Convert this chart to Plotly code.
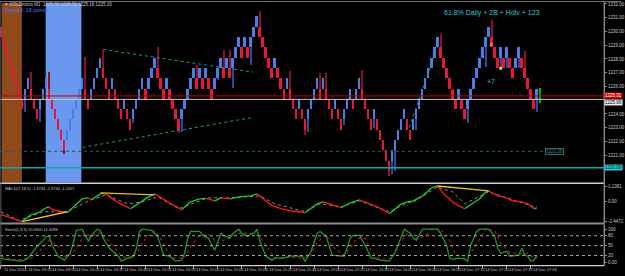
import plotly.graph_objects as go

W, H = 625, 276

# ---------------- data ----------------
BRICK_SIZE = 0.75
BRICK_BASE = 1225.10
# renko brick close levels (in bricks relative to BRICK_BASE), one per bar
brick_level = [6, 5, 4, 3, 2, 1, 0, -1, 1, 2,
               0, -1, -2, 0, 1, 2, 0, -1, -2, -3,
               -4, -5, -3, -2, -1, 0, 1, 2, 0, -1,
               1, 2, 3, 4, 2, 1, 0, 2, 0, -1,
               -2, 0, -2, -3, -1, 0, 1, 2, 0, 2,
               3, 4, 2, 1, 0, 2, 0, -1, -2, -3,
               -1, 0, 1, 2, 3, 1, 3, 1, 3, 1,
               0, 2, 3, 4, 2, 4, 2, 4, 5, 6,
               4, 6, 4, 6, 7, 8, 6, 5, 4, 3,
               2, 4, 2, 1, 0, 2, 0, -1, -2, 0,
               -2, -3, -1, 0, 1, 2, 0, 2, 0, -1,
               -2, 0, -2, -3, -1, 0, 1, -1, 1, 2,
               0, -1, -2, -3, -1, -3, -4, -5, -6, -7,
               -5, -4, -3, -2, -1, -3, -4, -2, -1, 0,
               1, 2, 3, 4, 5, 6, 4, 3, 2, 1,
               0, -1, 1, -1, -2, 0, 1, 2, 3, 4,
               5, 6, 7, 5, 4, 3, 5, 3, 5, 3,
               2, 4, 5, 3, 2, 1, 0, -1, 1]
wick_high_level = {10: 2.6, 16: 2.6, 28: 4.1, 34: 4.7, 52: 5.0, 65: 3.3, 74: 4.7, 76: 4.7,
                   86: 8.5, 96: 2.7, 106: 2.5, 108: 2.5, 120: 2.8, 146: 6.3, 163: 7.6, 174: 4.6}
wick_low_level = {8: -1.3, 13: -2.2, 21: -5.3, 44: -2.3, 59: -3.3, 60: -3.2, 72: 1.8, 77: 1.05,
                  83: 3.3, 101: -3.5, 102: -3.2, 114: -2.5, 124: -2.8, 129: -7.5, 130: -7.3,
                  131: -7.0, 138: -3.0, 155: -2.3, 161: 3.1, 166: 2.8, 168: 3.0, 172: 3.0, 178: -1.3}
current_bar = 179
current_low, current_high = 1224.81, 1225.88

# price labels hidden behind the coloured price tags are left out (1220, 1225)
price_ticks = [1219, 1221, 1222, 1223, 1224, 1226, 1227, 1228, 1229, 1230, 1231, 1232]
red_line_price = 1225.31
bid_line_price = 1225.06
cyan_line_price = 1220.09
dotted_level_price = 1221.28
dotted_level_end_bar = 180.5

trend_upper_bars, trend_upper_prices = [34.0, 83.8], [1228.69, 1227.04]
trend_lower_bars, trend_lower_prices = [27.1, 83.2], [1221.57, 1223.73]
trend_rise_bars, trend_rise_prices = [135.6, 145.2], [1223.01, 1229.05]

band_brown_bars = [0.33, 6.93]
band_blue_bars = [14.85, 26.7]

mark_c = (163, 1229.12)
mark_sq = (166, 1227.32)

macd_bar = [0, 3, 7, 10, 11, 13, 15, 16, 17, 22, 27, 29, 30, 33, 34, 35, 38, 41, 43, 47,
            49, 51, 56, 60, 63, 66, 68, 69, 71, 73, 76, 79, 83, 85, 90, 93, 96, 99, 101, 105,
            107, 111, 113, 116, 119, 125, 129, 133, 135, 137, 140, 143, 145, 147, 150, 152, 154, 159, 161, 162,
            165, 167, 170, 173, 175, 177, 178]
macd_val = [-0.94, -1.16, -1.44, -0.94, -0.90, -0.73, -0.44, -0.37, -0.58, -0.80, 0.21, 0.28, 0.14, 0.57, 0.60, 0.53, 0.06, -0.29, -0.51, 0.06,
            0.35, 0.57, -0.08, -0.58, -0.01, 0.21, 0.24, 0.18, 0.06, 0.28, 0.21, 0.35, 0.42, 0.57, -0.29, -0.51, -0.65, -0.73, -0.80, -0.15,
            -0.01, -0.29, -0.44, -0.08, 0.14, -0.37, -0.87, -0.15, -0.01, 0.06, 0.42, 1.00, 1.14, 0.57, -0.01, -0.29, -0.51, 0.21, 0.71, 0.78,
            0.42, 0.35, 0.06, -0.01, -0.15, -0.51, -0.44]
macd_sig_bar = [0, 6, 14, 22, 29, 35, 42, 47, 52, 59, 66, 69, 76, 86, 91, 101, 106, 113, 119, 129,
                135, 137, 145, 150, 154, 162, 170, 177, 178]
macd_sig_val = [-0.73, -1.37, -0.73, -0.73, 0.06, 0.50, -0.15, -0.01, 0.35, -0.51, 0.06, 0.28, 0.28, 0.42, -0.15, -0.73, -0.15, -0.37, 0.06, -0.73,
                -0.08, -0.01, 1.07, 0.71, -0.15, 0.71, 0.14, -0.37, -0.29]
macd_div_lines = [([7, 22], [-1.44, -0.73]), ([33, 51], [0.64, 0.50]), ([145, 162], [1.14, 0.78])]
macd_ticks = [1.1381, 0.0, -1.4471]
macd_ticktext = ["1.1381", "0.00", "-1.4471"]
macd_label = "MACD(7,18,5) -1.3734 -1.3734 -1.1107"

stoch_bar = [0, 1, 7, 9, 11, 12, 14, 15, 16, 17, 19, 21, 23, 24, 25, 27, 28, 29, 30, 32,
             33, 34, 36, 38, 39, 40, 42, 44, 45, 46, 47, 50, 52, 53, 54, 56, 58, 60, 61, 62,
             63, 66, 67, 69, 70, 71, 73, 74, 76, 77, 79, 80, 82, 83, 84, 85, 86, 88, 90, 91,
             94, 96, 100, 101, 103, 105, 106, 108, 109, 110, 113, 114, 116, 117, 119, 121, 123, 124, 126, 129,
             131, 133, 134, 136, 137, 138, 140, 145, 146, 148, 149, 150, 152, 154, 155, 156, 158, 159, 162, 164,
             165, 166, 168, 169, 172, 173, 174, 175, 176, 177, 178]
stoch_val = [12, 9, 3, 12, 36, 48, 66, 78, 78, 51, 18, 6, 27, 57, 96, 100, 81, 63, 81, 100,
             96, 72, 42, 27, 18, 3, 12, 18, 42, 93, 100, 96, 78, 51, 21, 18, 3, 6, 27, 72,
             93, 93, 81, 72, 51, 36, 87, 81, 72, 87, 100, 87, 78, 87, 87, 100, 63, 18, 6, 12,
             12, 18, 18, 3, 33, 87, 93, 78, 51, 21, 18, 18, 72, 81, 81, 51, 12, 12, 6, 3,
             33, 78, 100, 87, 72, 66, 100, 100, 87, 51, 12, 9, 12, 9, 3, 51, 93, 100, 100, 78,
             42, 27, 33, 18, 21, 42, 21, 18, 3, 6, 20]
stoch_sig_bar = [0, 5, 10, 13, 16, 19, 21, 23, 26, 28, 30, 33, 35, 38, 40, 43, 45, 48, 51, 53,
                 55, 57, 61, 63, 66, 69, 72, 74, 77, 80, 84, 86, 89, 91, 95, 100, 103, 105, 108, 110,
                 114, 116, 118, 121, 123, 126, 130, 132, 135, 138, 141, 143, 146, 149, 151, 154, 156, 159, 161, 164,
                 166, 169, 172, 175, 177, 178]
stoch_sig_val = [18, 6, 12, 36, 66, 48, 18, 18, 57, 87, 78, 90, 72, 42, 18, 12, 27, 72, 96, 72,
                 36, 12, 12, 48, 81, 84, 57, 66, 81, 90, 84, 78, 36, 12, 15, 12, 21, 60, 84, 48,
                 21, 42, 72, 72, 33, 9, 12, 48, 87, 72, 78, 100, 100, 66, 24, 12, 27, 72, 100, 96,
                 57, 30, 24, 27, 12, 11.4]
stoch_levels = [80, 50, 20]
stoch_ticks = [100, 80, 50, 20, 0]
stoch_ticktext = ["100", "80", "50", "20", "0.00"]
stoch_label = "Stoch(5,3,3) 20.0000 11.4286"

time_label_bars = [0, 8, 16, 24, 32, 40, 48, 56, 64, 72, 80, 88, 96, 104, 112, 120, 128, 136, 144, 152, 160, 168, 176]
time_labels = ["11 Dec 2014", "14 Dec 09:25", "14 Dec 09:53", "14 Dec 10:21", "14 Dec 10:37", "14 Dec 10:43",
               "14 Dec 10:51", "14 Dec 10:59", "14 Dec 11:02", "14 Dec 11:05", "14 Dec 11:08", "14 Dec 11:22",
               "14 Dec 11:44", "14 Dec 12:00", "14 Dec 12:22", "14 Dec 13:33", "14 Dec 14:05", "14 Dec 16:04",
               "14 Dec 16:59", "14 Dec 17:12", "14 Dec 17:20", "14 Dec 17:37", "14 Dec 17:53"]

header_text = "▾ GOLDmicro,M1  1225.30 1225.30 1225.16 1225.16"
spread_text = "Spread: 18 points"
setup_text = "61.8% Daily + 2B + Hdiv + 123"
count_text = "+7"

# ---------------- layout helpers ----------------
def fy(px):
    return 1 - px / H

PLOT_RIGHT = 608 / W
X_RANGE = [-0.33, -0.33 + 608 / 3.03]
MAIN_DOM = [fy(183.5), fy(2)]
MACD_DOM = [fy(224), fy(185)]
STOCH_DOM = [fy(267), fy(226)]
MAIN_RANGE = [1232 - (183.5 - 3) / 13.9, 1232 - (2 - 3) / 13.9]
MACD_RANGE = [(202.9 - 224) * 0.0718, (202.9 - 185) * 0.0718]
STOCH_RANGE = [-9, 114]

RED, BLUE = "#e8163c", "#4a7de8"
RED_W, BLUE_W = "#8c1026", "#2a4a9a"
FONT = "Arial"

# ---------------- build bricks ----------------
xs, bases, heights, cols = [], [], [], []
wx, wbase, wh, wcols = [], [], [], []
prev = brick_level[0] + 1
for i, lv in enumerate(brick_level):
    up = lv > prev
    op = lv - 1 if up else lv + 1
    lo_b, hi_b = min(op, lv), max(op, lv)
    lo_w = min(lo_b, wick_low_level.get(i, lo_b))
    hi_w = max(hi_b, wick_high_level.get(i, hi_b))
    p_lo, p_hi = BRICK_BASE + BRICK_SIZE * lo_b, BRICK_BASE + BRICK_SIZE * hi_b
    xs.append(i); bases.append(p_lo); heights.append(p_hi - p_lo)
    cols.append(BLUE if up else RED)
    wx.append(i)
    wlo, whi = BRICK_BASE + BRICK_SIZE * lo_w, BRICK_BASE + BRICK_SIZE * hi_w
    wbase.append(wlo); wh.append(whi - wlo)
    wcols.append(BLUE_W if up else RED_W)
    prev = lv

fig = go.Figure()
fig.add_trace(go.Bar(x=wx, y=wh, base=wbase, width=0.33, marker=dict(color=wcols, line=dict(width=0)),
                     xaxis="x", yaxis="y", hoverinfo="skip", showlegend=False))
fig.add_trace(go.Bar(x=xs, y=heights, base=bases, width=0.66, marker=dict(color=cols, line=dict(width=0)),
                     xaxis="x", yaxis="y", hoverinfo="skip", showlegend=False))
fig.add_trace(go.Bar(x=[current_bar], y=[current_high - current_low], base=[current_low], width=0.35,
                     marker=dict(color="#00b000", line=dict(width=0)), xaxis="x", yaxis="y",
                     hoverinfo="skip", showlegend=False))

# trend lines
for bx, py_ in [(trend_upper_bars, trend_upper_prices), (trend_lower_bars, trend_lower_prices),
                (trend_rise_bars, trend_rise_prices)]:
    fig.add_trace(go.Scatter(x=bx, y=py_, mode="lines", line=dict(color="#159a9a", width=1, dash="dot"),
                             xaxis="x", yaxis="y", hoverinfo="skip", showlegend=False))

# marker near second top
fig.add_trace(go.Scatter(x=[mark_sq[0]], y=[mark_sq[1]], mode="markers",
                         marker=dict(symbol="square", size=3, color="#e8c040"),
                         xaxis="x", yaxis="y", hoverinfo="skip", showlegend=False))

# MACD colored line
gx, gy, rx, ry = [], [], [], []
for j in range(1, len(macd_bar)):
    seg_x = [macd_bar[j - 1], macd_bar[j], None]
    seg_y = [macd_val[j - 1], macd_val[j], None]
    if macd_val[j] >= macd_val[j - 1]:
        gx += seg_x; gy += seg_y
    else:
        rx += seg_x; ry += seg_y
fig.add_trace(go.Scatter(x=macd_sig_bar, y=macd_sig_val, mode="lines",
                         line=dict(color="#8a8a8a", width=1, dash="dot"),
                         xaxis="x", yaxis="y2", hoverinfo="skip", showlegend=False))
fig.add_trace(go.Scatter(x=gx, y=gy, mode="lines", line=dict(color="#20d020", width=1.3),
                         xaxis="x", yaxis="y2", hoverinfo="skip", showlegend=False, connectgaps=False))
fig.add_trace(go.Scatter(x=rx, y=ry, mode="lines", line=dict(color="#ff1a1a", width=1.3),
                         xaxis="x", yaxis="y2", hoverinfo="skip", showlegend=False, connectgaps=False))
for bx, vy in macd_div_lines:
    fig.add_trace(go.Scatter(x=bx, y=vy, mode="lines", line=dict(color="#e8c020", width=1.3),
                             xaxis="x", yaxis="y2", hoverinfo="skip", showlegend=False))

# Stochastic
fig.add_trace(go.Scatter(x=stoch_sig_bar, y=stoch_sig_val, mode="lines",
                         line=dict(color="#a81818", width=1.2, dash="dot"),
                         xaxis="x", yaxis="y3", hoverinfo="skip", showlegend=False))
fig.add_trace(go.Scatter(x=stoch_bar, y=stoch_val, mode="lines",
                         line=dict(color="#1a9a1a", width=1.3),
                         xaxis="x", yaxis="y3", hoverinfo="skip", showlegend=False))

shapes = []
# background time bands
for (b0, b1), colr in [(band_brown_bars, "#8f4a1c"), (band_blue_bars, "#6a98ee")]:
    shapes.append(dict(type="rect", xref="x", yref="paper", x0=b0, x1=b1, y0=MAIN_DOM[0], y1=MAIN_DOM[1],
                       fillcolor=colr, line=dict(width=0), layer="below"))
# price level lines
shapes.append(dict(type="line", xref="paper", yref="y", x0=0, x1=PLOT_RIGHT, y0=red_line_price,
                   y1=red_line_price, line=dict(color="#c80000", width=1)))
shapes.append(dict(type="line", xref="paper", yref="y", x0=0, x1=PLOT_RIGHT, y0=bid_line_price,
                   y1=bid_line_price, line=dict(color="#c8c8c8", width=1)))
shapes.append(dict(type="line", xref="paper", yref="y", x0=0, x1=PLOT_RIGHT, y0=cyan_line_price,
                   y1=cyan_line_price, line=dict(color="#10a8b0", width=1.5)))
shapes.append(dict(type="line", xref="x", yref="y", x0=X_RANGE[0], x1=dotted_level_end_bar,
                   y0=dotted_level_price, y1=dotted_level_price,
                   line=dict(color="#1f5f5f", width=1, dash="dot")))
# stoch levels
for lv in stoch_levels:
    shapes.append(dict(type="line", xref="paper", yref="y3", x0=0, x1=PLOT_RIGHT, y0=lv, y1=lv,
                       line=dict(color="#a8a8a8", width=1, dash="dot")))
# panel separators
shapes.append(dict(type="line", xref="paper", yref="paper", x0=0, x1=1, y0=fy(0.5), y1=fy(0.5),
                   line=dict(color="#707070", width=1)))
shapes.append(dict(type="line", xref="paper", yref="paper", x0=0, x1=PLOT_RIGHT, y0=fy(184.2), y1=fy(184.2),
                   line=dict(color="#d0d0d0", width=1.5)))
shapes.append(dict(type="rect", xref="paper", yref="paper", x0=0, x1=PLOT_RIGHT, y0=fy(226), y1=fy(224),
                   fillcolor="#8a8a8a", line=dict(width=0)))
shapes.append(dict(type="line", xref="paper", yref="paper", x0=0, x1=PLOT_RIGHT, y0=fy(267.6), y1=fy(267.6),
                   line=dict(color="#d0d0d0", width=1.2)))
shapes.append(dict(type="line", xref="paper", yref="paper", x0=PLOT_RIGHT, x1=PLOT_RIGHT, y0=fy(268), y1=fy(0),
                   line=dict(color="#8a8a8a", width=1)))
shapes.append(dict(type="line", xref="paper", yref="paper", x0=0.0015, x1=0.0015, y0=fy(268), y1=fy(0),
                   line=dict(color="#606060", width=1)))

ann = []
def tag(y, yref, text, bg, fc):
    ann.append(dict(xref="paper", yref=yref, x=PLOT_RIGHT, y=y, xanchor="left", yanchor="middle",
                    text=text, showarrow=False, bgcolor=bg, borderpad=0,
                    font=dict(size=4.5, color=fc, family=FONT)))
tag(red_line_price + 0.05, "y", f"{red_line_price:.2f}", "#e00000", "#ffffff")
tag(bid_line_price - 0.2, "y", f"{bid_line_price:.2f}", "#e8e8e8", "#000000")
tag(cyan_line_price, "y", f"{cyan_line_price:.2f}", "#20d0d8", "#000000")
ann.append(dict(xref="x", yref="y", x=dotted_level_end_bar + 0.3, y=dotted_level_price, xanchor="left",
                yanchor="middle", text=f"{dotted_level_price:.2f}", showarrow=False, bgcolor="#000000",
                bordercolor="#2a6a6a", borderwidth=1, borderpad=0, font=dict(size=4.5, color="#3a8a8a", family=FONT)))
ann.append(dict(xref="paper", yref="paper", x=3 / W, y=fy(3.5), xanchor="left", yanchor="middle",
                text=header_text, showarrow=False, font=dict(size=4.5, color="#c8c8c8", family=FONT)))
ann.append(dict(xref="paper", yref="paper", x=3 / W, y=fy(8.8), xanchor="left", yanchor="middle",
                text=spread_text, showarrow=False, font=dict(size=5.5, color="#4a6ef0", family=FONT)))
ann.append(dict(xref="paper", yref="paper", x=495 / W, y=fy(12.5), xanchor="center", yanchor="middle",
                text=setup_text, showarrow=False, font=dict(size=7, color="#1ec8d2", family=FONT)))
ann.append(dict(xref="paper", yref="paper", x=494 / W, y=fy(81), xanchor="center", yanchor="middle",
                text=count_text, showarrow=False, font=dict(size=7, color="#1ec8d2", family=FONT)))
ann.append(dict(xref="x", yref="y", x=mark_c[0], y=mark_c[1], xanchor="center", yanchor="middle",
                text="c", showarrow=False, font=dict(size=5, color="#f0f0f0", family=FONT)))
ann.append(dict(xref="paper", yref="paper", x=3 / W, y=fy(189.5), xanchor="left", yanchor="middle",
                text=macd_label, showarrow=False, font=dict(size=4, color="#c8c8c8", family=FONT)))
ann.append(dict(xref="paper", yref="paper", x=3 / W, y=fy(231), xanchor="left", yanchor="middle",
                text=stoch_label, showarrow=False, font=dict(size=4, color="#c8c8c8", family=FONT)))
for b, t in zip(time_label_bars, time_labels):
    ann.append(dict(xref="x", yref="paper", x=b + 0.2, y=fy(271.3), xanchor="left", yanchor="middle",
                    text=t, showarrow=False, font=dict(size=4, color="#c8c8c8", family=FONT)))

axis_common = dict(showgrid=False, zeroline=False, side="right", anchor="x", showline=True,
                   linecolor="#8a8a8a", linewidth=1, ticks="outside", ticklen=2, tickcolor="#8a8a8a",
                   tickfont=dict(size=4.5, color="#c8c8c8", family=FONT), fixedrange=True)

fig.update_layout(
    width=W, height=H, margin=dict(l=0, r=0, t=0, b=0),
    paper_bgcolor="#000000", plot_bgcolor="#000000",
    barmode="overlay", bargap=0, showlegend=False,
    xaxis=dict(domain=[0, PLOT_RIGHT], range=X_RANGE, anchor="y3", showgrid=False, zeroline=False,
               showticklabels=False, ticks="outside", ticklen=3, tickcolor="#a0a0a0",
               tickvals=time_label_bars, showline=False, fixedrange=True),
    yaxis=dict(domain=MAIN_DOM, range=MAIN_RANGE, tickvals=price_ticks,
               ticktext=[f"{p:.2f}" for p in price_ticks], **axis_common),
    yaxis2=dict(domain=MACD_DOM, range=MACD_RANGE, tickvals=macd_ticks, ticktext=macd_ticktext, **axis_common),
    yaxis3=dict(domain=STOCH_DOM, range=STOCH_RANGE, tickvals=stoch_ticks, ticktext=stoch_ticktext, **axis_common),
    shapes=shapes, annotations=ann,
)

fig.write_html("out.html")
